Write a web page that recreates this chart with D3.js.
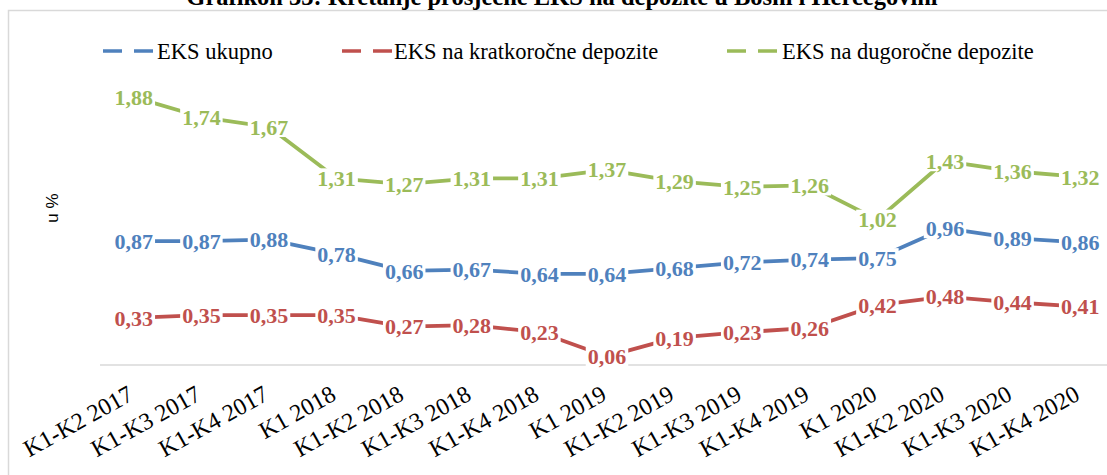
<!DOCTYPE html>
<html>
<head>
<meta charset="utf-8">
<script src="https://cdn.jsdelivr.net/npm/d3@7/dist/d3.min.js"></script>
<style>
  html, body { margin: 0; padding: 0; background: #fff; }
  svg { display: block; }
</style>
</head>
<body>
<svg id="chart" width="1107" height="475"></svg>
<script>
const categories = ["K1-K2 2017","K1-K3 2017","K1-K4 2017","K1 2018","K1-K2 2018","K1-K3 2018","K1-K4 2018","K1 2019","K1-K2 2019","K1-K3 2019","K1-K4 2019","K1 2020","K1-K2 2020","K1-K3 2020","K1-K4 2020"];
const ukupno = [0.87,0.87,0.88,0.78,0.66,0.67,0.64,0.64,0.68,0.72,0.74,0.75,0.96,0.89,0.86];
const kratkorocne = [0.33,0.35,0.35,0.35,0.27,0.28,0.23,0.06,0.19,0.23,0.26,0.42,0.48,0.44,0.41];
const dugorocne = [1.88,1.74,1.67,1.31,1.27,1.31,1.31,1.37,1.29,1.25,1.26,1.02,1.43,1.36,1.32];
const seriesNames = ["EKS ukupno","EKS na kratkoročne depozite","EKS na dugoročne depozite"];
const colors = ["#4F81BD","#C0504D","#9BBB59"];
const title = "Grafikon 33: Kretanje prosječne EKS na depozite u Bosni i Hercegovini";
const yLabel = "u %";

const series = [ukupno, kratkorocne, dugorocne];
const svg = d3.select("#chart");
const serif = "'Liberation Serif', 'Times New Roman', serif";

// outer chart border
svg.append("rect").attr("x", 8.5).attr("y", 10.5).attr("width", 1200).attr("height", 600)
  .attr("fill", "none").attr("stroke", "#d9d9d9").attr("stroke-width", 1.5);

// title (cut off at top, as in the reference)
svg.append("text").attr("x", 562).attr("y", 5)
  .attr("text-anchor", "middle")
  .attr("font-family", serif)
  .attr("font-weight", "bold").attr("font-size", 24.5)
  .text(title);

const x = d3.scalePoint().domain(categories).range([100, 1114]).padding(0.5);
const y = d3.scaleLinear().domain([0, 2]).range([365, 80]);

// baseline axis
const xAxis = d3.axisBottom(x).tickSize(0).tickFormat("");
const gx = svg.append("g").attr("transform", "translate(0,365)").call(xAxis);
gx.select(".domain").attr("stroke", "#d9d9d9").attr("stroke-width", 1.5)
  .attr("d", "M100,0H1114");

// x labels
svg.append("g").selectAll("text").data(categories).join("text")
  .attr("transform", d => `translate(${x(d) + 1},399) rotate(-29)`)
  .attr("text-anchor", "end")
  .attr("font-family", serif)
  .attr("font-size", 24).attr("fill", "#000")
  .text(d => d);

// y label
svg.append("text").attr("transform", "translate(58,208) rotate(-90)")
  .attr("text-anchor", "middle")
  .attr("font-family", "'Liberation Sans', Arial, sans-serif")
  .attr("font-size", 17).attr("fill", "#000")
  .text(yLabel);

// lines
const line = d3.line().x((d, i) => x(categories[i])).y(d => y(d));
series.forEach((s, k) => {
  svg.append("path").datum(s).attr("d", line)
    .attr("fill", "none").attr("stroke", colors[k]).attr("stroke-width", 3.8)
    .attr("stroke-linejoin", "round");
});

// data labels with white background
const fmt = v => v.toFixed(2).replace(".", ",");
series.forEach((s, k) => {
  const g = svg.append("g");
  s.forEach((v, i) => {
    const cx = x(categories[i]), cy = y(v);
    const t = g.append("text").attr("x", cx).attr("y", cy).attr("dy", "0.35em")
      .attr("text-anchor", "middle")
      .attr("font-family", serif)
      .attr("font-weight", "bold").attr("font-size", 22)
      .attr("fill", colors[k]).text(fmt(v));
    const bb = t.node().getBBox();
    g.insert("rect", () => t.node())
      .attr("x", bb.x - 2).attr("y", cy - 10).attr("width", bb.width + 4).attr("height", 20)
      .attr("fill", "#fff");
  });
});

// legend
const legendItems = [
  { sx: 103, tx: 157 },
  { sx: 342, tx: 394 },
  { sx: 727, tx: 782 }
];
const lg = svg.append("g");
seriesNames.forEach((name, k) => {
  const it = legendItems[k];
  lg.append("line").attr("x1", it.sx).attr("x2", it.sx + 50).attr("y1", 51).attr("y2", 51)
    .attr("stroke", colors[k]).attr("stroke-width", 3.5).attr("stroke-dasharray", "19,12");
  lg.append("text").attr("x", it.tx).attr("y", 59)
    .attr("font-family", serif)
    .attr("font-size", 22.5).attr("fill", "#000").text(name);
});
</script>
</body>
</html>
